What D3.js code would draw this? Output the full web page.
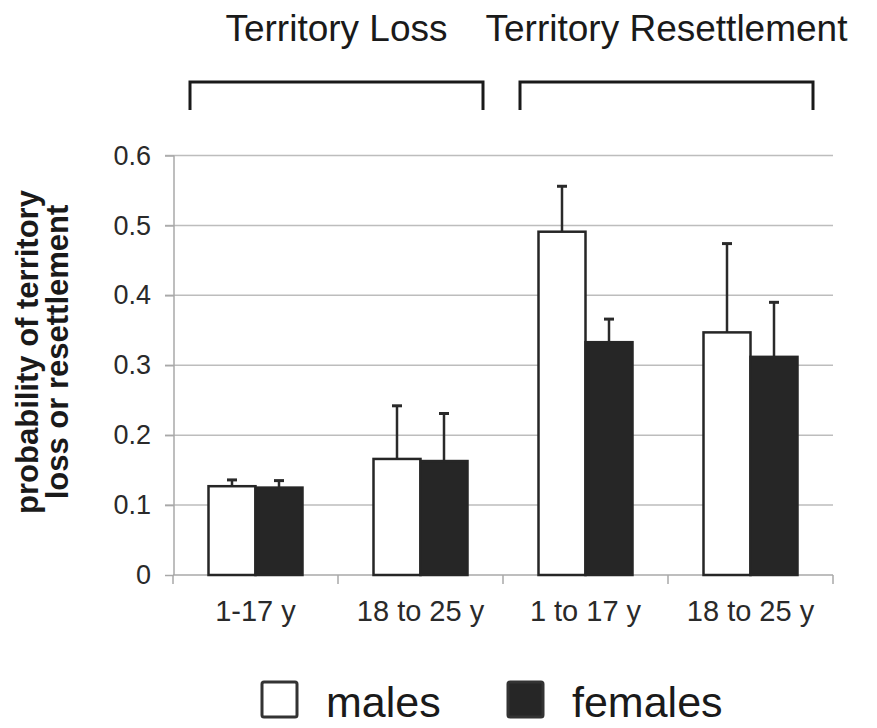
<!DOCTYPE html>
<meta charset="utf-8">
<style>
body { margin: 0; background: #fff; }
text { font-family: "Liberation Sans", Arial, Helvetica, sans-serif; fill: #1a1a1a; }
.grid line { stroke: #bdbdbd; stroke-width: 1.5; }
.axis path, .axis line { stroke: #a8a8a8; stroke-width: 1.5; fill: none; }
.axis text { font-size: 27px; fill: #2a2a2a; }
.x.axis text { font-size: 29px; }
.ylabel { font-size: 31px; font-weight: bold; }
.group-title { font-size: 37px; }
.legend text { font-size: 43px; }
</style>
<body>
<script src="https://d3js.org/d3.v7.min.js"></script>
<script>

var categories = ["1-17 y", "18 to 25 y", "1 to 17 y", "18 to 25 y "];
var males = [0.127, 0.166, 0.491, 0.347];
var malesErr = [0.136, 0.242, 0.556, 0.474];
var females = [0.125, 0.163, 0.333, 0.312];
var femalesErr = [0.135, 0.231, 0.366, 0.390];
var yTicks = [0, 0.1, 0.2, 0.3, 0.4, 0.5, 0.6];
var groups = [
  {title: "Territory Loss", from: 0, to: 1},
  {title: "Territory Resettlement", from: 2, to: 3}
];
var legendLabels = ["males", "females"];

var width = 877, height = 728;

var svg = d3.select("body").append("svg")
    .attr("width", width)
    .attr("height", height);

var x = d3.scaleBand()
    .domain(categories)
    .range([173, 833]);

var y = d3.scaleLinear()
    .domain([0, 0.6])
    .range([575, 155.5]);

var barW = 47;

// gridlines
svg.append("g").attr("class", "grid")
  .selectAll("line").data(yTicks.slice(1)).enter().append("line")
    .attr("x1", 165).attr("x2", 833)
    .attr("y1", function(d) { return y(d); })
    .attr("y2", function(d) { return y(d); });

// y axis
var yAxis = d3.axisLeft(y).tickValues(yTicks).tickSize(9).tickPadding(14)
    .tickFormat(function(d) { return d === 0 ? "0" : d3.format(".1f")(d); });
svg.append("g").attr("class", "y axis")
    .attr("transform", "translate(174,0)")
    .call(yAxis)
    .call(function(g) { g.select(".domain").attr("d", "M0," + y(0) + "V" + y(0.6)); });

// x axis
var xAxis = d3.axisBottom(x).tickSize(0).tickPadding(30);
var xg = svg.append("g").attr("class", "x axis")
    .attr("transform", "translate(0," + y(0) + ")")
    .call(xAxis);
xg.select(".domain").attr("d", "M173,0H833");
xg.selectAll(".tick text").attr("dy", "0.55em");
xg.selectAll(".bound").data(categories.concat(["end"])).enter().append("line")
    .attr("class", "bound")
    .attr("x1", function(d, i) { return 173 + i * x.step(); })
    .attr("x2", function(d, i) { return 173 + i * x.step(); })
    .attr("y1", 0).attr("y2", 9);

// bars
var bars = svg.append("g");
categories.forEach(function(c, i) {
  var cx = x(c) + x.bandwidth() / 2;
  var series = [
    {v: males[i], e: malesErr[i], x0: cx - barW, fill: "#ffffff"},
    {v: females[i], e: femalesErr[i], x0: cx, fill: "#262626"}
  ];
  series.forEach(function(s) {
    var mid = s.x0 + barW / 2;
    bars.append("line")
        .attr("x1", mid).attr("x2", mid)
        .attr("y1", y(s.v)).attr("y2", y(s.e))
        .attr("stroke", "#2a2a2a").attr("stroke-width", 2.5);
    bars.append("line")
        .attr("x1", mid - 5).attr("x2", mid + 5)
        .attr("y1", y(s.e)).attr("y2", y(s.e))
        .attr("stroke", "#2a2a2a").attr("stroke-width", 3);
    bars.append("rect")
        .attr("x", s.x0).attr("y", y(s.v))
        .attr("width", barW).attr("height", y(0) - y(s.v))
        .attr("fill", s.fill)
        .attr("stroke", "#262626").attr("stroke-width", 2.5);
  });
});

// group titles and brackets
groups.forEach(function(g) {
  var left = x(categories[g.from]) + 17;
  var right = x(categories[g.to]) + x.bandwidth() - 20;
  svg.append("path")
      .attr("d", "M" + left + ",110V82H" + right + "V110")
      .attr("fill", "none")
      .attr("stroke", "#1a1a1a")
      .attr("stroke-width", 3);
  svg.append("text")
      .attr("class", "group-title")
      .attr("x", (left + right) / 2)
      .attr("y", 41)
      .attr("text-anchor", "middle")
      .text(g.title);
});

// y label
var yl = svg.append("text")
    .attr("class", "ylabel")
    .attr("transform", "translate(0,352) rotate(-90)")
    .attr("text-anchor", "middle");
yl.append("tspan").attr("x", 0).attr("y", 38).text("probability of territory");
yl.append("tspan").attr("x", 0).attr("y", 68).text("loss or resettlement");

// legend
var legend = svg.append("g").attr("class", "legend");
var legendX = [262, 508];
var legendFill = ["#ffffff", "#262626"];
legendLabels.forEach(function(l, i) {
  legend.append("rect")
      .attr("x", legendX[i]).attr("y", 682)
      .attr("width", 35).attr("height", 35)
      .attr("rx", 2)
      .attr("fill", legendFill[i])
      .attr("stroke", "#333").attr("stroke-width", 3);
  legend.append("text")
      .attr("x", legendX[i] + 64)
      .attr("y", 717)
      .text(l);
});

</script>
</body>
